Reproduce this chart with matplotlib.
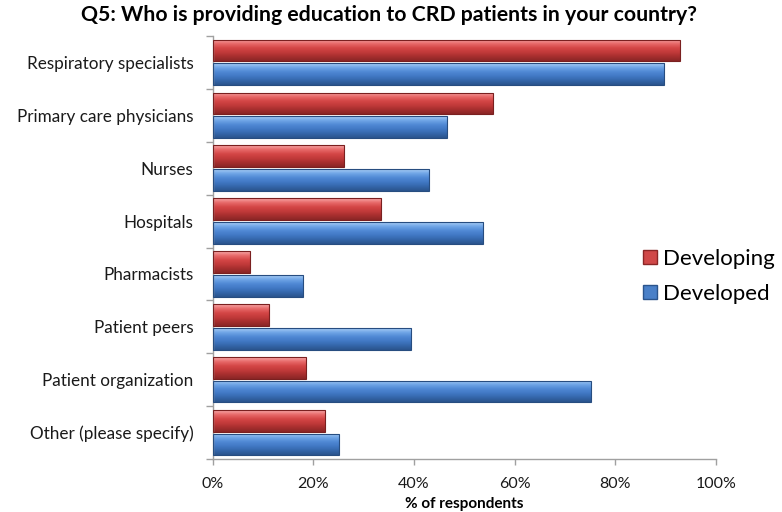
import matplotlib.pyplot as plt
import numpy as np
from matplotlib.colors import LinearSegmentedColormap
from matplotlib.patches import Patch

plt.rcParams['font.family'] = ['Lato', 'DejaVu Sans']

categories = ['Respiratory specialists', 'Primary care physicians', 'Nurses',
              'Hospitals', 'Pharmacists', 'Patient peers',
              'Patient organization', 'Other (please specify)']
developing = [92.9, 55.8, 26.1, 33.5, 7.5, 11.2, 18.6, 22.3]
developed = [89.7, 46.6, 43.0, 53.8, 18.0, 39.5, 75.1, 25.1]
xticks = [0, 20, 40, 60, 80, 100]

red_cmap = LinearSegmentedColormap.from_list(
    'red3d', ['#f7a8a8', '#e86a6a', '#d44646', '#c23a3a', '#a62e2e', '#8a2626'])
blue_cmap = LinearSegmentedColormap.from_list(
    'blue3d', ['#a8cdf5', '#6ea4e6', '#4f88d4', '#4178c4', '#3466aa', '#2b548c'])


def gradient_bars(ax, bars, cmap):
    """Paint a vertical gradient inside every bar (Excel 3D look)."""
    grad = np.linspace(0, 1, 64).reshape(-1, 1)
    for b in bars:
        x0, y0 = b.get_x(), b.get_y()
        w, h = b.get_width(), b.get_height()
        im = ax.imshow(grad, cmap=cmap, aspect='auto', origin='upper',
                       extent=(x0, x0 + w, y0 + h, y0), zorder=2,
                       interpolation='bicubic')
        im.set_clip_path(b)


fig = plt.figure(figsize=(7.82, 5.12), dpi=100)
ax = fig.add_axes([0.272, 0.1035, 0.6435, 0.8262])

pos = np.arange(len(categories))
bh = 0.41
red_bars = ax.barh(pos - 0.225, developing, height=bh, color='#c94040',
                   edgecolor='#7a2020', linewidth=0.8, zorder=3)
blue_bars = ax.barh(pos + 0.225, developed, height=bh, color='#4a80c8',
                    edgecolor='#274d80', linewidth=0.8, zorder=3)
for b in list(red_bars) + list(blue_bars):
    b.set_facecolor('none')
gradient_bars(ax, red_bars, red_cmap)
gradient_bars(ax, blue_bars, blue_cmap)

ax.set_xlim(0, 100)
ax.set_ylim(len(categories) - 0.5, -0.5)

# y axis: ticks at category boundaries, labels at centres
ax.set_yticks(np.arange(-0.5, len(categories)), labels=[])
ax.set_yticks(pos, labels=categories, minor=True)
ax.tick_params(axis='y', which='major', length=5, color='#a0a0a0', width=1)
ax.tick_params(axis='y', which='minor', length=0, labelsize=12.3, pad=14,
               labelcolor='#1a1a1a')
ax.set_xticks(xticks, labels=[f'{t}%' for t in xticks])
ax.tick_params(axis='x', length=4, color='#a0a0a0', width=1, labelsize=11.5,
               pad=9, labelcolor='#1a1a1a')

for s in ['top', 'right']:
    ax.spines[s].set_visible(False)
for s in ['left', 'bottom']:
    ax.spines[s].set_color('#a0a0a0')
    ax.spines[s].set_linewidth(1)

ax.set_xlabel('% of respondents', fontsize=11, fontweight='bold', labelpad=4)
fig.suptitle('Q5: Who is providing education to CRD patients in your country?',
             x=0.498, y=0.99, fontsize=15.3, fontweight='bold')

handles = [Patch(facecolor='#d04848', edgecolor='#8a2626', label='Developing'),
           Patch(facecolor='#4a80c8', edgecolor='#2b548c', label='Developed')]
fig.legend(handles=handles, loc='center left', bbox_to_anchor=(0.797, 0.46),
           frameon=False, fontsize=16, handlelength=0.6, handleheight=0.6,
           handletextpad=0.3, labelspacing=0.65)

fig.savefig('out.png', dpi=100)
